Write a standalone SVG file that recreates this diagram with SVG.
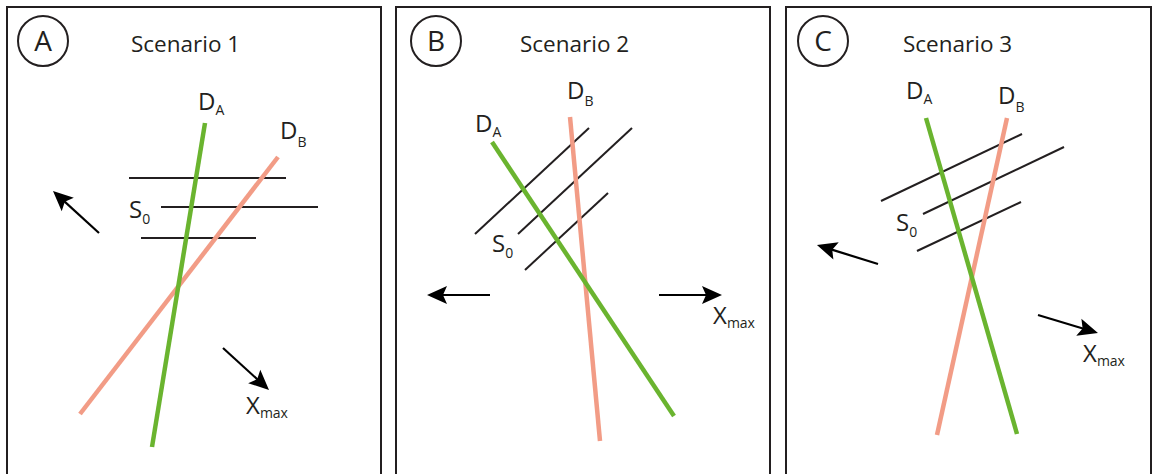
<svg xmlns="http://www.w3.org/2000/svg" width="1152" height="474" viewBox="0 0 1152 474">
<style>
.panel{fill:#fff;stroke:#231f20;stroke-width:2}
.circ{fill:none;stroke:#231f20;stroke-width:2}
.t{font-family:"Open Sans","Liberation Sans",sans-serif;fill:#231f20}
.big{font-size:28px}
.ttl{font-size:22.5px}
.lab{font-size:24px}
.sub{font-size:14px}
.da{stroke:#6ab42f;stroke-width:4.5;fill:none}
.db{stroke:#f29c86;stroke-width:4.5;fill:none}
.s{stroke:#231f20;stroke-width:2;fill:none}
.arr{stroke:#000;stroke-width:2.2;fill:none;marker-end:url(#ah)}
</style>
<defs>
<marker id="ah" markerUnits="userSpaceOnUse" viewBox="-14 -10 24 20" refX="0" refY="0" markerWidth="24" markerHeight="20" orient="auto">
<path d="M8,0 L-12,-9 L-8,0 L-12,9 Z" fill="#000"/>
</marker>
</defs>
<rect width="1152" height="474" fill="#fff"/>

<g id="panelA">
<rect class="panel" x="7" y="7" width="374" height="480"/>
<circle class="circ" cx="43" cy="41" r="25"/>
<text class="t big" x="43" y="51" text-anchor="middle">A</text>
<text class="t ttl" x="131" y="52">Scenario 1</text>
<line class="s" x1="129" y1="178" x2="286" y2="178"/>
<line class="s" x1="161" y1="207" x2="318" y2="207"/>
<line class="s" x1="141" y1="238" x2="256" y2="238"/>
<line class="db" x1="278" y1="157" x2="80" y2="414"/>
<line class="da" x1="205" y1="123" x2="152" y2="447"/>
<text class="t lab" x="198" y="110">D<tspan class="sub" dy="5">A</tspan></text>
<text class="t lab" x="280" y="139">D<tspan class="sub" dy="8">B</tspan></text>
<text class="t lab" x="129" y="218">S<tspan class="sub" dy="6">0</tspan></text>
<text class="t lab" x="246" y="414">X<tspan class="sub" dy="4">max</tspan></text>
</g>

<g id="panelB">
<rect class="panel" x="396" y="7" width="374" height="480"/>
<circle class="circ" cx="436" cy="41" r="25"/>
<text class="t big" x="436" y="51" text-anchor="middle">B</text>
<text class="t ttl" x="520" y="52">Scenario 2</text>
<line class="s" x1="475" y1="234" x2="589" y2="128"/>
<line class="s" x1="518" y1="234" x2="632" y2="128"/>
<line class="s" x1="525" y1="270" x2="608" y2="193"/>
<line class="db" x1="570" y1="117" x2="600" y2="441"/>
<line class="da" x1="492" y1="142" x2="674" y2="416"/>
<text class="t lab" x="475" y="132">D<tspan class="sub" dy="5">A</tspan></text>
<text class="t lab" x="567" y="99">D<tspan class="sub" dy="7">B</tspan></text>
<text class="t lab" x="492" y="252">S<tspan class="sub" dy="6">0</tspan></text>
<text class="t lab" x="713" y="324">X<tspan class="sub" dy="4">max</tspan></text>
</g>

<g id="panelC">
<rect class="panel" x="786" y="7" width="365" height="480"/>
<circle class="circ" cx="823" cy="41" r="25"/>
<text class="t big" x="823" y="51" text-anchor="middle">C</text>
<text class="t ttl" x="903" y="52">Scenario 3</text>
<line class="s" x1="881" y1="201" x2="1022" y2="134"/>
<line class="s" x1="923" y1="214" x2="1064" y2="147"/>
<line class="s" x1="917" y1="251" x2="1021" y2="202"/>
<line class="db" x1="1007" y1="118" x2="937" y2="435"/>
<line class="da" x1="926" y1="118" x2="1017" y2="434"/>
<text class="t lab" x="906" y="99">D<tspan class="sub" dy="5">A</tspan></text>
<text class="t lab" x="998" y="104">D<tspan class="sub" dy="8">B</tspan></text>
<text class="t lab" x="896" y="231">S<tspan class="sub" dy="6">0</tspan></text>
<text class="t lab" x="1083" y="362">X<tspan class="sub" dy="4">max</tspan></text>
</g>

<g id="connectors">
<line class="arr" x1="99" y1="233" x2="58.9" y2="196.4"/>
<line class="arr" x1="223" y1="348" x2="263.1" y2="384.6"/>
<line class="arr" x1="490" y1="295" x2="435" y2="295"/>
<line class="arr" x1="659" y1="295" x2="714" y2="295"/>
<line class="arr" x1="878" y1="264" x2="824.6" y2="247.4"/>
<line class="arr" x1="1038" y1="315" x2="1090.3" y2="330.7"/>
</g>
</svg>
